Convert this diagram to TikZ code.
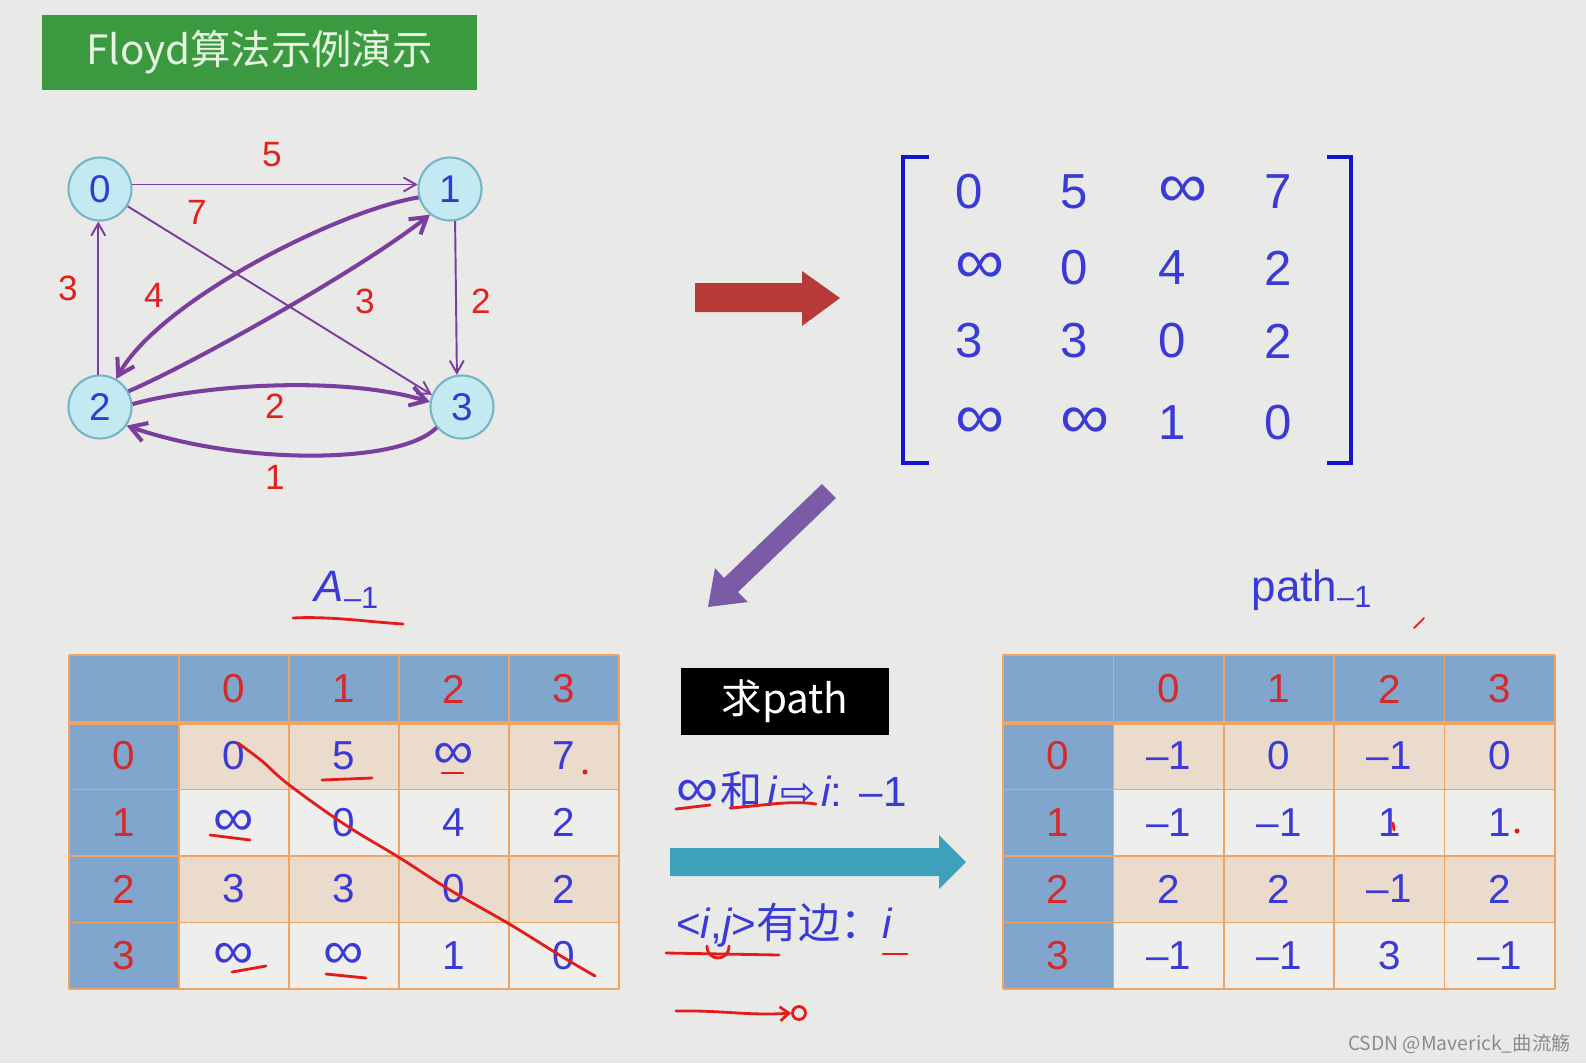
\documentclass[tikz,border=0pt]{standalone}
\usepackage{fontspec}
\setmainfont{Liberation Sans}
\newfontfamily\cjk{Noto Sans CJK SC}
\newfontfamily\symf{DejaVu Sans}
\newcommand\infs{\scalebox{1.4}[1.3]{∞}}
\usetikzlibrary{arrows.meta}
\definecolor{bgGrey}{HTML}{E9E9E7}
\definecolor{ttlGreen}{HTML}{3B9A3F}
\definecolor{ttlText}{HTML}{E6F4E2}
\definecolor{vtxFill}{HTML}{C4E9F2}
\definecolor{vtxLine}{HTML}{74B6C6}
\definecolor{numBlue}{HTML}{2E3CCF}
\definecolor{edgePurple}{HTML}{7B3D9E}
\definecolor{lblRed}{HTML}{E0221E}
\definecolor{brkBlue}{HTML}{1414CC}
\definecolor{arrRed}{HTML}{B63B38}
\definecolor{arrPurple}{HTML}{7C5BA6}
\definecolor{arrTeal}{HTML}{3DA2B9}
\definecolor{hdBlue}{HTML}{80A6CE}
\definecolor{rowPeach}{HTML}{EADBCD}
\definecolor{rowLight}{HTML}{EEEEEC}
\definecolor{gridOrange}{HTML}{EFA463}
\definecolor{hdRed}{HTML}{D42A2A}
\definecolor{cellBlue}{HTML}{3A3AD6}
\definecolor{handRed}{HTML}{E31B1B}
\definecolor{wmGrey}{HTML}{8C8C8C}
\tikzset{
  ttl/.style={fill=ttlGreen, minimum width=8.7cm, minimum height=1.5cm, text=ttlText, font=\cjk\fontsize{23}{23}\selectfont},
  vtx/.style={circle, draw=vtxLine, line width=1.2pt, fill=vtxFill, minimum size=1.26cm, inner sep=0pt, text=numBlue, font=\fontsize{22}{22}\selectfont},
  edg/.style={-{Straight Barb[length=7pt,width=8pt]}, line width=1.1pt, edgePurple},
  edgb/.style={-{Straight Barb[length=9pt,width=11pt]}, line width=2.3pt, edgePurple},
  wlbl/.style={text=lblRed, font=\fontsize{20}{20}\selectfont, inner sep=0pt},
  mval/.style={anchor=west, inner sep=0pt, text=cellBlue, font=\fontsize{28}{28}\selectfont},
  brk/.style={brkBlue, line width=2.4pt},
  grd/.style={gridOrange, line width=1pt},
  hcell/.style={text=hdRed, font=\fontsize{23}{23}\selectfont, inner sep=0pt},
  bcell/.style={text=cellBlue, font=\fontsize{23}{23}\selectfont, inner sep=0pt},
  tname/.style={text=cellBlue, font=\fontsize{25}{25}\selectfont, inner sep=0pt},
  blk/.style={fill=black, minimum width=4.16cm, minimum height=1.34cm, text=white, font=\cjk\fontsize{23}{23}\selectfont},
  rtxt/.style={anchor=west, inner sep=0pt, text=cellBlue, font=\fontsize{24}{24}\selectfont},
  hand/.style={handRed, line width=1.6pt, line cap=round, line join=round},
  wm/.style={anchor=east, inner sep=0pt, text=wmGrey, font=\cjk\fontsize{11}{11}\selectfont},
}
\begin{document}
\begin{tikzpicture}[x=0.02cm,y=-0.02cm]
  \useasboundingbox (0,0) rectangle (1586,1063);
  \fill[bgGrey] (0,0) rectangle (1586,1063);
  % title
  \node[ttl] (title) at (259.5,52.5) {Floyd算法示例演示};
  % graph
  \node[vtx] (v0) at (100,189) {0};
  \node[vtx] (v1) at (450,189) {1};
  \node[vtx] (v2) at (100,407) {2};
  \node[vtx] (v3) at (462,407) {3};
  \draw[edg] (v0.8) -- (v1.172);
  \draw[edg] (v0.-32) -- (v3.158);
  \draw[edg] (v2.93) -- (v0.267);
  \draw[edg] (v1.-81) -- (v3.99);
  \draw[edgb] (v1.195) .. controls (340,210) and (160,300) .. (v2.60);
  \draw[edgb] (v2.29) .. controls (190,365) and (360,270) .. (v1.232);
  \draw[edgb] (v2.5) .. controls (200,385) and (340,375) .. (v3.171);
  \draw[edgb] (v3.219) .. controls (400,465) and (240,465) .. (v2.-35);
  \node[wlbl] (w01) at (272,155) {5};
  \node[wlbl] (w03) at (197,212) {7};
  \node[wlbl] (w20) at (68,288) {3};
  \node[wlbl] (w12) at (154,295) {4};
  \node[wlbl] (w21) at (365,301) {3};
  \node[wlbl] (w13) at (481,301) {2};
  \node[wlbl] (w23) at (275,406) {2};
  \node[wlbl] (w32) at (275,477) {1};
  % big arrows
  \fill[arrRed] (695,283) -- (802,283) -- (802,271) -- (840,298) -- (802,326) -- (802,312) -- (695,312) -- cycle;
  \fill[arrPurple] (836,498) -- (738,592) -- (748,602) -- (708,607) -- (715,568) -- (724,578) -- (822,484) -- cycle;
  \fill[arrTeal] (670,848) -- (939,848) -- (939,835) -- (966,862) -- (939,889) -- (939,876) -- (670,876) -- cycle;
  % adjacency matrix
  \draw[brk] (929,157) -- (903,157) -- (903,463) -- (929,463);
  \draw[brk] (1327,157) -- (1351,157) -- (1351,463) -- (1327,463);
  \foreach \r/\y/\row in {0/192/{0,5,\infs,7},1/268/{\infs,0,4,2},2/341/{3,3,0,2},3/423/{\infs,\infs,1,0}}
    \foreach \v [count=\c from 0] in \row {
      \pgfmathsetmacro\mx{{955,1060,1158,1264}[\c]}
      \node[mval] (m\r\c) at (\mx,\y) {\v};
    }
  % A_{-1} table
  \node[tname] (aname) at (347,590) {{\itshape A}\textsubscript{–1}};
  \fill[hdBlue] (69,655) rectangle (619,723);
  \fill[hdBlue] (69,723) rectangle (179,989);
  \foreach \r/\fc in {0/rowPeach,1/rowLight,2/rowPeach,3/rowLight}
    \fill[\fc] (179,723+66.5*\r) rectangle (619,789.5+66.5*\r);
  \foreach \x in {69,179,...,619} \draw[grd] (\x,655) -- (\x,989);
  \foreach \y in {655,789.5,856,922.5,989} \draw[grd] (69,\y) -- (619,\y);
  \draw[grd, line width=2pt] (69,723) -- (619,723);
  \foreach \c in {0,...,3} \node[hcell] (ah\c) at (234+110*\c,689) {\c};
  \foreach \r/\row in {0/{0,5,\infs,7},1/{\infs,0,4,2},2/{3,3,0,2},3/{\infs,\infs,1,0}} {
    \node[hcell] (ar\r) at (124,756+66.5*\r) {\r};
    \foreach \v [count=\c from 0] in \row
      \node[bcell] (a\r\c) at (234+110*\c,756+66.5*\r) {\v};
  }
  % path_{-1} table
  \node[tname] (pname) at (1312,590) {path\textsubscript{–1}};
  \fill[hdBlue] (1003,655) rectangle (1555,723);
  \fill[hdBlue] (1003,723) rectangle (1113.4,989);
  \foreach \r/\fc in {0/rowPeach,1/rowLight,2/rowPeach,3/rowLight}
    \fill[\fc] (1113.4,723+66.5*\r) rectangle (1555,789.5+66.5*\r);
  \foreach \c in {0,...,5} \draw[grd] (1003+110.4*\c,655) -- (1003+110.4*\c,989);
  \foreach \y in {655,789.5,856,922.5,989} \draw[grd] (1003,\y) -- (1555,\y);
  \draw[grd, line width=2pt] (1003,723) -- (1555,723);
  \foreach \c in {0,...,3} \node[hcell] (ph\c) at (1168.6+110.4*\c,689) {\c};
  \foreach \r/\row in {0/{–1,0,–1,0},1/{–1,–1,1,1},2/{2,2,–1,2},3/{–1,–1,3,–1}} {
    \node[hcell] (pr\r) at (1058.2,756+66.5*\r) {\r};
    \foreach \v [count=\c from 0] in \row
      \node[bcell] (p\r\c) at (1168.6+110.4*\c,756+66.5*\r) {\v};
  }
  % rules for path
  \node[blk] (qpath) at (785,701.5) {求path};
  \node[rtxt] (rule1) at (676,791) {\infs\kern1pt{\cjk 和}\kern3pt{\itshape i}\kern2pt{\symf ⇨}\kern3pt{\itshape i}:\kern10pt –1};
  \node[rtxt] (rule2) at (676,925) {<{\itshape i},{\itshape j}>{\cjk 有边：}{\itshape i}};
  % handwriting
  \draw[hand] plot[smooth, tension=0.6] coordinates {(238,743) (262,761) (288,784) (344,824) (400,858) (450,890) (511,925) (561,956) (595,976)};
  \draw[hand] (293,618) .. controls (330,616) and (370,622) .. (403,624);
  \draw[hand] (322,780) -- (372,778);
  \draw[hand] (442,773) -- (463,773);
  \draw[hand] (210,835) -- (250,840);
  \draw[hand] (232,972) -- (266,966);
  \draw[hand] (326,974) -- (366,978);
  \fill[handRed] (585,772) circle[radius=2.5];
  \fill[handRed] (1517,831) circle[radius=2.5];
  \draw[hand] (1393,823) -- (1394,830);
  \draw[hand, line width=1pt] (1414,628) -- (1424,618);
  \draw[hand] (676,809) -- (710,805);
  \draw[hand] (730,808) .. controls (760,806) and (790,800) .. (816,804);
  \draw[hand] (666,953) -- (779,955);
  \draw[hand] (707,946) .. controls (707,962) and (729,962) .. (729,946);
  \draw[hand] (883,954) -- (907,954);
  \node[draw=handRed, line width=1.6pt, circle, inner sep=0pt, minimum size=0.26cm] (ring) at (799,1013) {};
  \coordinate (hstart) at (676,1011);
  \draw[hand, -{Straight Barb[length=5pt,width=8pt]}] (hstart) .. controls (720,1010) and (750,1016) .. (ring.west);
  % watermark
  \node[wm] (mark) at (1571,1044) {CSDN @Maverick\_曲流觞};
\end{tikzpicture}
\end{document}
